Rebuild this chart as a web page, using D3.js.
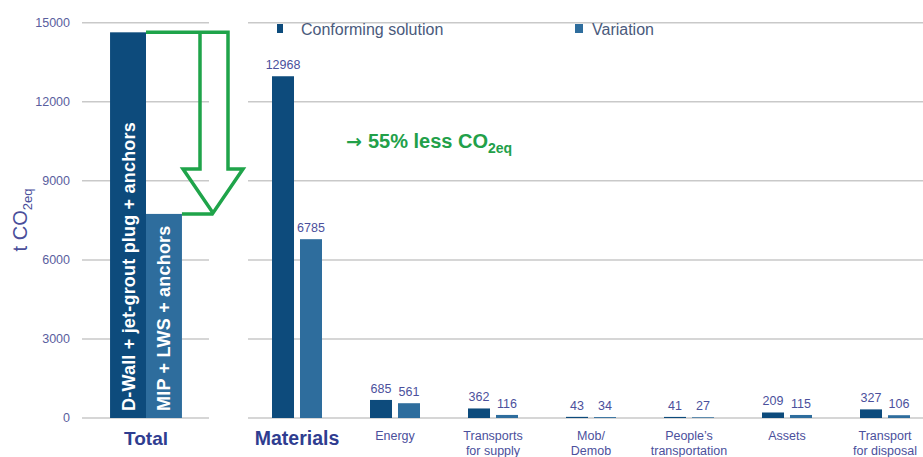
<!DOCTYPE html>
<html>

<head>
  <meta charset="UTF-8">
  <style>
    body { margin: 0; background: #fff; }
    svg { display: block; font-family: "Liberation Sans", Arial, sans-serif; }
  </style>
</head>

<body>
  <svg></svg>
  <script src="https://d3js.org/d3.v7.min.js"></script>

  <script>

    let width = 923, height = 457;

    // data
    const categories = ["Materials", "Energy", "Transports for supply", "Mob/Demob",
      "People's transportation", "Assets", "Transport for disposal"];
    const categoryLines = [["Materials"], ["Energy"], ["Transports", "for supply"], ["Mob/", "Demob"],
      ["People\u2019s", "transportation"], ["Assets"], ["Transport", "for disposal"]];
    const conforming = [12968, 685, 362, 43, 41, 209, 327];
    const variation = [6785, 561, 116, 34, 27, 115, 106];
    const seriesNames = ["Conforming solution", "Variation"];
    const totalLabels = ["D-Wall + jet-grout plug + anchors", "MIP + LWS + anchors"];
    const yTicks = [0, 3000, 6000, 9000, 12000, 15000];

    const darkBlue = "#0d4b7c", lightBlue = "#2e6d9d";
    const textBlue = "#4b509c", green = "#1fa44a";
    const colors = [darkBlue, lightBlue];

    let svg = d3.select("svg")
      .attr("width", width)
      .attr("height", height);

    let y = d3.scaleLinear().domain([0, 15000]).range([418, 22.7]);

    // total panel
    let xTotal = d3.scaleBand().domain(["Total"]).range([82, 210]).paddingOuter(0.39);
    let xTotalInner = d3.scaleBand().domain(seriesNames).range([0, xTotal.bandwidth()]);

    // category panel
    let x = d3.scaleBand().domain(categories).range([248, 934]);
    let xInner = d3.scaleBand().domain(seriesNames).range([0, 50]).paddingInner(0.214);

    // gridlines
    let grid = svg.append("g");
    [[82, 209], [248, 923]].forEach(([x0, x1]) => {
      grid.selectAll(null)
        .data(yTicks)
        .enter()
        .append("line")
        .attr("x1", x0).attr("x2", x1)
        .attr("y1", d => y(d)).attr("y2", d => y(d))
        .attr("stroke", "#c9c9c9")
        .attr("stroke-width", 1.5);
    });

    // y axis labels
    svg.append("g")
      .selectAll("text")
      .data(yTicks)
      .enter()
      .append("text")
      .attr("x", 70)
      .attr("y", d => y(d))
      .attr("dy", "0.35em")
      .attr("text-anchor", "end")
      .attr("font-size", 12.5)
      .attr("fill", "#5a5e9e")
      .text(d => d);

    let yTitle = svg.append("text")
      .attr("transform", "translate(27,220) rotate(-90)")
      .attr("text-anchor", "middle")
      .attr("font-size", 20)
      .attr("fill", "#4a4e9a");
    yTitle.append("tspan").text("t CO");
    yTitle.append("tspan").attr("font-size", 13).attr("dy", 5).text("2eq");

    // total bars
    let totals = [d3.sum(conforming), d3.sum(variation)];
    let tx = xTotal("Total");
    svg.append("g")
      .selectAll("rect")
      .data(totals)
      .enter()
      .append("rect")
      .attr("x", (d, i) => tx + xTotalInner(seriesNames[i]))
      .attr("y", d => y(d))
      .attr("width", xTotalInner.bandwidth())
      .attr("height", d => y(0) - y(d))
      .attr("fill", (d, i) => colors[i]);

    svg.append("g")
      .selectAll("text")
      .data(totalLabels)
      .enter()
      .append("text")
      .attr("transform", (d, i) => "translate(" + (tx + xTotalInner(seriesNames[i]) + xTotalInner.bandwidth() / 2) + ",411) rotate(-90)")
      .attr("dy", "0.36em")
      .attr("font-size", 18)
      .attr("letter-spacing", 0.2)
      .attr("font-weight", "bold")
      .attr("fill", "#fff")
      .text(d => d);

    svg.append("text")
      .attr("x", tx + xTotal.bandwidth() / 2)
      .attr("y", 445)
      .attr("text-anchor", "middle")
      .attr("font-size", 19)
      .attr("font-weight", "bold")
      .attr("fill", "#2f3d90")
      .text("Total");

    // green reduction arrow
    let yC = y(totals[0]), yV = y(totals[1]);
    let barR = tx + xTotalInner(seriesNames[1]);
    let barR2 = barR + xTotalInner.bandwidth();
    let headY = yV - 45;
    svg.append("path")
      .attr("d", "M" + barR + "," + yC + " L228," + yC + " L228," + headY + " L243," + headY +
        " L213," + (yV - 1) + " L183," + headY + " L200," + headY + " L200," + yC +
        " M" + barR2 + "," + yV + " L213," + yV)
      .attr("fill", "none")
      .attr("stroke", green)
      .attr("stroke-width", 3.5)
      .attr("stroke-linejoin", "miter");

    let note = svg.append("text")
      .attr("x", 346)
      .attr("y", 148)
      .attr("font-size", 20)
      .attr("font-weight", "bold")
      .attr("fill", "#22a049");
    note.append("tspan").attr("font-family", "DejaVu Sans").attr("font-size", 19).text("\u2192");
    note.append("tspan").attr("dx", 6).text("55% less CO");
    note.append("tspan").attr("font-size", 14).attr("dy", 5).text("2eq");

    // category bars
    let rows = categories.map((c, i) => ({ cat: c, values: [conforming[i], variation[i]] }));
    let groups = svg.append("g")
      .selectAll("g")
      .data(rows)
      .enter()
      .append("g")
      .attr("transform", d => "translate(" + (x(d.cat) + x.bandwidth() / 2 - 25) + ",0)");

    groups.selectAll("rect")
      .data(d => d.values)
      .enter()
      .append("rect")
      .attr("x", (d, i) => xInner(seriesNames[i]))
      .attr("y", d => y(d))
      .attr("width", xInner.bandwidth())
      .attr("height", d => y(0) - y(d))
      .attr("fill", (d, i) => colors[i]);

    groups.selectAll("text.val")
      .data(d => d.values)
      .enter()
      .append("text")
      .attr("class", "val")
      .attr("x", (d, i) => xInner(seriesNames[i]) + xInner.bandwidth() / 2)
      .attr("y", d => y(d) - 7)
      .attr("text-anchor", "middle")
      .attr("font-size", 12.5)
      .attr("fill", textBlue)
      .text(d => d);

    // category labels
    svg.append("g")
      .selectAll("text")
      .data(categories)
      .enter()
      .append("text")
      .attr("x", d => x(d) + x.bandwidth() / 2)
      .attr("y", (d, i) => i == 0 ? 445 : 440)
      .attr("text-anchor", "middle")
      .attr("font-size", (d, i) => i == 0 ? 19.5 : 12.5)
      .attr("font-weight", (d, i) => i == 0 ? "bold" : "normal")
      .attr("fill", (d, i) => i == 0 ? "#2f3d90" : textBlue)
      .each(function (d, i) {
        categoryLines[i].forEach((line, j) => {
          d3.select(this).append("tspan")
            .attr("x", x(d) + x.bandwidth() / 2)
            .attr("dy", j == 0 ? 0 : 14.5)
            .text(line);
        });
      });

    // legend
    let legend = svg.append("g");
    [[277, 301], [575, 592]].forEach(([mx, tx2], i) => {
      legend.append("rect")
        .attr("x", mx).attr("y", 24)
        .attr("width", i == 0 ? 6 : 8).attr("height", 9)
        .attr("fill", colors[i]);
      legend.append("text")
        .attr("x", tx2).attr("y", 35)
        .attr("font-size", 16)
        .attr("fill", "#4a5a7c")
        .text(seriesNames[i]);
    });

  </script>

</body>

</html>
